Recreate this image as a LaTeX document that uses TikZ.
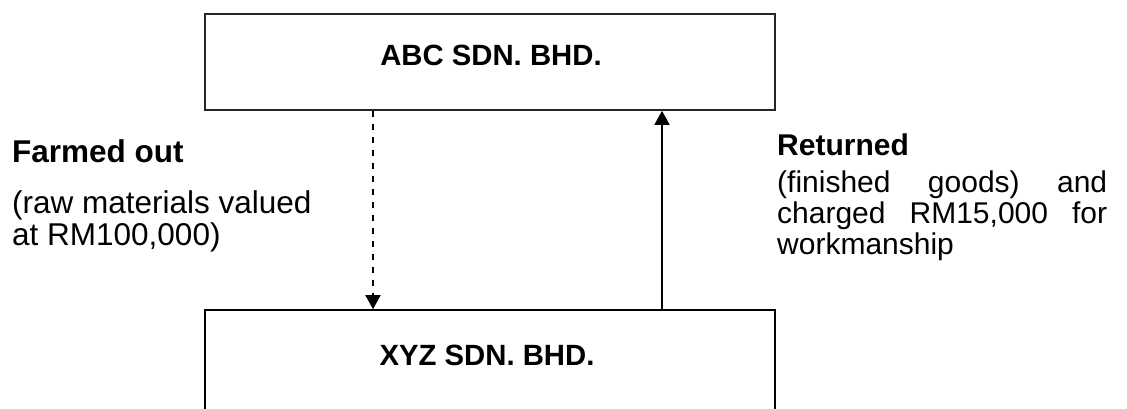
\documentclass[tikz,border=0pt]{standalone}
\usepackage{fontspec}
\setmainfont{Liberation Sans}
\usetikzlibrary{arrows.meta}
\begin{document}
\begin{tikzpicture}[x=1pt,y=-1pt,
  company/.style={draw=black!85,line width=1.6pt,rectangle,inner sep=0pt},
  title/.style={font=\fontsize{29.3}{31}\selectfont\bfseries,inner sep=0pt,anchor=base},
  heading/.style={font=\fontsize{30}{31}\selectfont\bfseries,inner sep=0pt,anchor=base west},
  para/.style={font=\fontsize{30}{31}\selectfont,inner sep=0pt,anchor=north west},
  bigger/.style={font=\fontsize{31.5}{32}\selectfont},
  biggerbold/.style={font=\fontsize{31.5}{32}\selectfont\bfseries},
  flow/.style={line width=1.5pt,-{Triangle[width=15pt,length=14pt]}},
  outflow/.style={flow,dash pattern=on 6pt off 7pt}]
\clip (0,0) rectangle (1127,408);
\fill[white] (0,0) rectangle (1127,408);
% boxes
\node[company,minimum width=570pt,minimum height=96pt] (abc) at (490,62) {};
\node[company,minimum width=570pt,minimum height=140pt,draw=black] (xyz) at (490,380) {};
\node[title] (abct) at (491,65) {ABC SDN. BHD.};
\node[title] (xyzt) at (487,365) {XYZ SDN. BHD.};
% arrow positions
\coordinate (dx) at (373,0);
\coordinate (ux) at (662,0);
\draw[outflow] (abc.south -| dx) -- (xyz.north -| dx);
\draw[flow] (xyz.north -| ux) -- (abc.south -| ux);
% labels
\node[heading,biggerbold] (farm) at (12,162) {Farmed out};
\node[para,bigger,align=left] (farmtxt) at (12,190) {(raw materials valued\\at RM100,000)};
\node[heading] (ret) at (777,155) {Returned};
\node[para,text width=330pt,align=justify] (rettxt) at (777,171)
  {(finished goods) and\linebreak charged RM15,000 for\linebreak workmanship};
\end{tikzpicture}
\end{document}
